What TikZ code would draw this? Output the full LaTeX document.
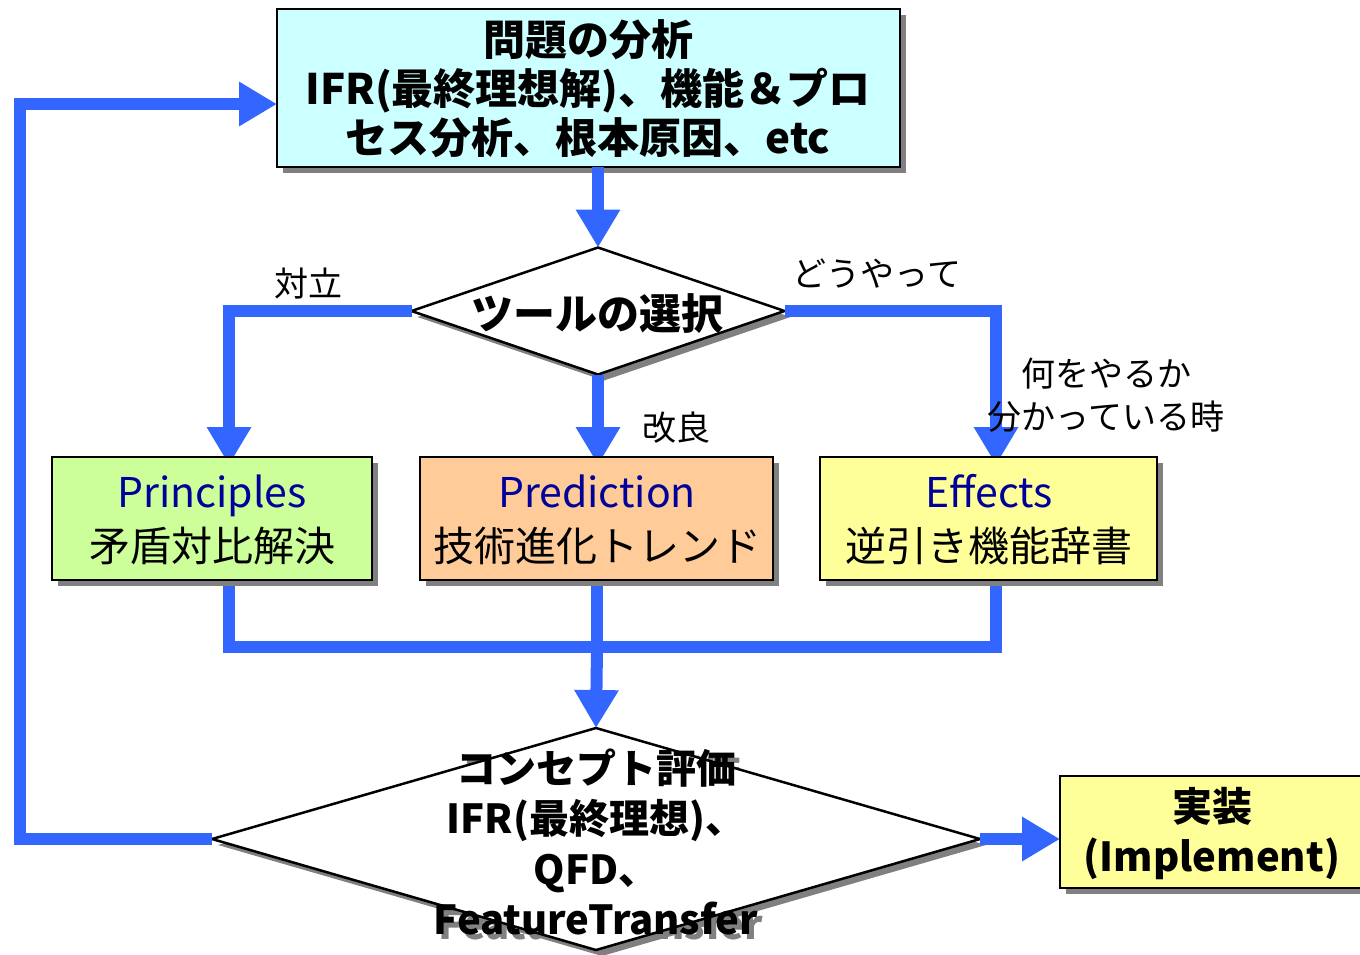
\documentclass[tikz,border=0pt]{standalone}
\usepackage{fontspec}
\setmainfont{Noto Sans CJK JP}
\usetikzlibrary{arrows.meta,shapes.geometric,shadows}
\definecolor{flowblue}{HTML}{3366FF}
\definecolor{shadowgray}{HTML}{808080}
\definecolor{cyanbox}{HTML}{CCFFFF}
\definecolor{greenbox}{HTML}{CCFF99}
\definecolor{orangebox}{HTML}{FFCC99}
\definecolor{yellowbox}{HTML}{FFFF99}
\definecolor{navytext}{HTML}{000099}
\begin{document}
\begin{tikzpicture}[x=1pt,y=-1pt,
  shad/.style={drop shadow={shadow xshift=6pt,shadow yshift=-6pt,fill=shadowgray,opacity=1}},
  box/.style={draw=black,line width=2pt,shad,align=center,inner sep=0pt,outer sep=0pt},
  diam/.style={shape=diamond,draw=black,line width=2.5pt,fill=white,shad,inner sep=0pt,outer sep=0pt},
  flow/.style={draw=flowblue,line width=12pt},
  arr/.style={flow,-{Triangle[width=42pt,length=38pt]}},
  bigbold/.style={font=\fontsize{42}{49}\selectfont\bfseries,align=center},
  tooltext/.style={font=\fontsize{41}{54}\selectfont,align=center},
  lbl/.style={font=\fontsize{34}{43}\selectfont,align=center,inner sep=0pt}
]
\useasboundingbox (0,0) rectangle (1360,954);

% boxes
\node[box,fill=cyanbox,minimum width=623pt,minimum height=158pt] (topbox) at (588.5,88) {};
\node[diam,minimum width=373pt,minimum height=127pt] (sel) at (598,311) {};
\node[box,fill=greenbox,minimum width=320pt,minimum height=123pt] (prin) at (212,518.5) {};
\node[box,fill=orangebox,minimum width=353pt,minimum height=123pt] (pred) at (596.5,518.5) {};
\node[box,fill=yellowbox,minimum width=337pt,minimum height=123pt] (eff) at (988.5,518.5) {};
\node[box,fill=yellowbox,minimum width=304pt,minimum height=112pt] (impl) at (1212,832) {};

% text shadow of evaluation diamond (under the diamond fill)
\node[bigbold,text=shadowgray,font=\fontsize{40}{50.5}\selectfont\bfseries] (evalshadow) at (601,847) {コンセプト評価\\IFR(最終理想)、\\QFD、\\FeatureTransfer};
\node[diam,minimum width=768pt,minimum height=222pt] (eval) at (596,839) {};

% coordinates for connector corners
\coordinate (lc) at (229,311);
\coordinate (rc) at (996,311);
\coordinate (jl) at (229,647);
\coordinate (jr) at (996,647);
\coordinate (jc) at (597,647);
\coordinate (fb1) at (20,839);
\coordinate (fb2) at (20,104);

% connectors
\draw[arr] (topbox.south -| sel.north) -- (sel.north);
\draw[arr] (sel.west) -- (lc) -- ([yshift=-8pt]lc |- prin.north);
\draw[arr] (sel.east) -- (rc) -- ([yshift=-8pt]rc |- eff.north);
\draw[arr] (sel.south) -- ([yshift=-8pt]sel.south |- pred.north);
\draw[flow] ([yshift=-2pt]jl |- prin.south) -- (jl) -- (jr) -- ([yshift=-2pt]jr |- eff.south);
\draw[flow] ([yshift=-2pt]jc |- pred.south) -- (jc);
\draw[arr] (jc) -- (eval.north);
\draw[arr] (eval.west) -- (fb1) -- (fb2) -- (fb2 -| topbox.west);
\draw[arr] (eval.east) -- (eval.east -| impl.west);

% redraw boxes on top of connector ends
\node[box,fill=greenbox,minimum width=320pt,minimum height=123pt] at (prin) {};
\node[box,fill=orangebox,minimum width=353pt,minimum height=123pt] at (pred) {};
\node[box,fill=yellowbox,minimum width=337pt,minimum height=123pt] at (eff) {};

% texts
\node[bigbold] (toptext) at (588,89) {問題の分析\\IFR(最終理想解)、機能＆プロ\\セス分析、根本原因、etc};
\node[font=\fontsize{42}{49}\selectfont\bfseries] (seltext) at (597,314) {ツールの選択};
\node[tooltext] (printext) at (212,520) {\textcolor{navytext}{Principles}\\矛盾対比解決};
\node[tooltext] (predtext) at (597,520) {\textcolor{navytext}{Prediction}\\技術進化トレンド};
\node[tooltext] (efftext) at (989,520) {\textcolor{navytext}{Effects}\\逆引き機能辞書};
\node[bigbold,font=\fontsize{40}{50.5}\selectfont\bfseries] (evaltext) at (596,842) {コンセプト評価\\IFR(最終理想)、\\QFD、\\FeatureTransfer};
\node[bigbold,font=\fontsize{40}{50}\selectfont\bfseries] (impltext) at (1212,834) {実装\\(Implement)};

% labels
\node[lbl] (l1) at (308,284) {対立};
\node[lbl] (l2) at (877,274) {どうやって};
\node[lbl] (l3) at (676,428) {改良};
\node[lbl] (l4) at (1106,395) {何をやるか\\分かっている時};
\end{tikzpicture}
\end{document}
